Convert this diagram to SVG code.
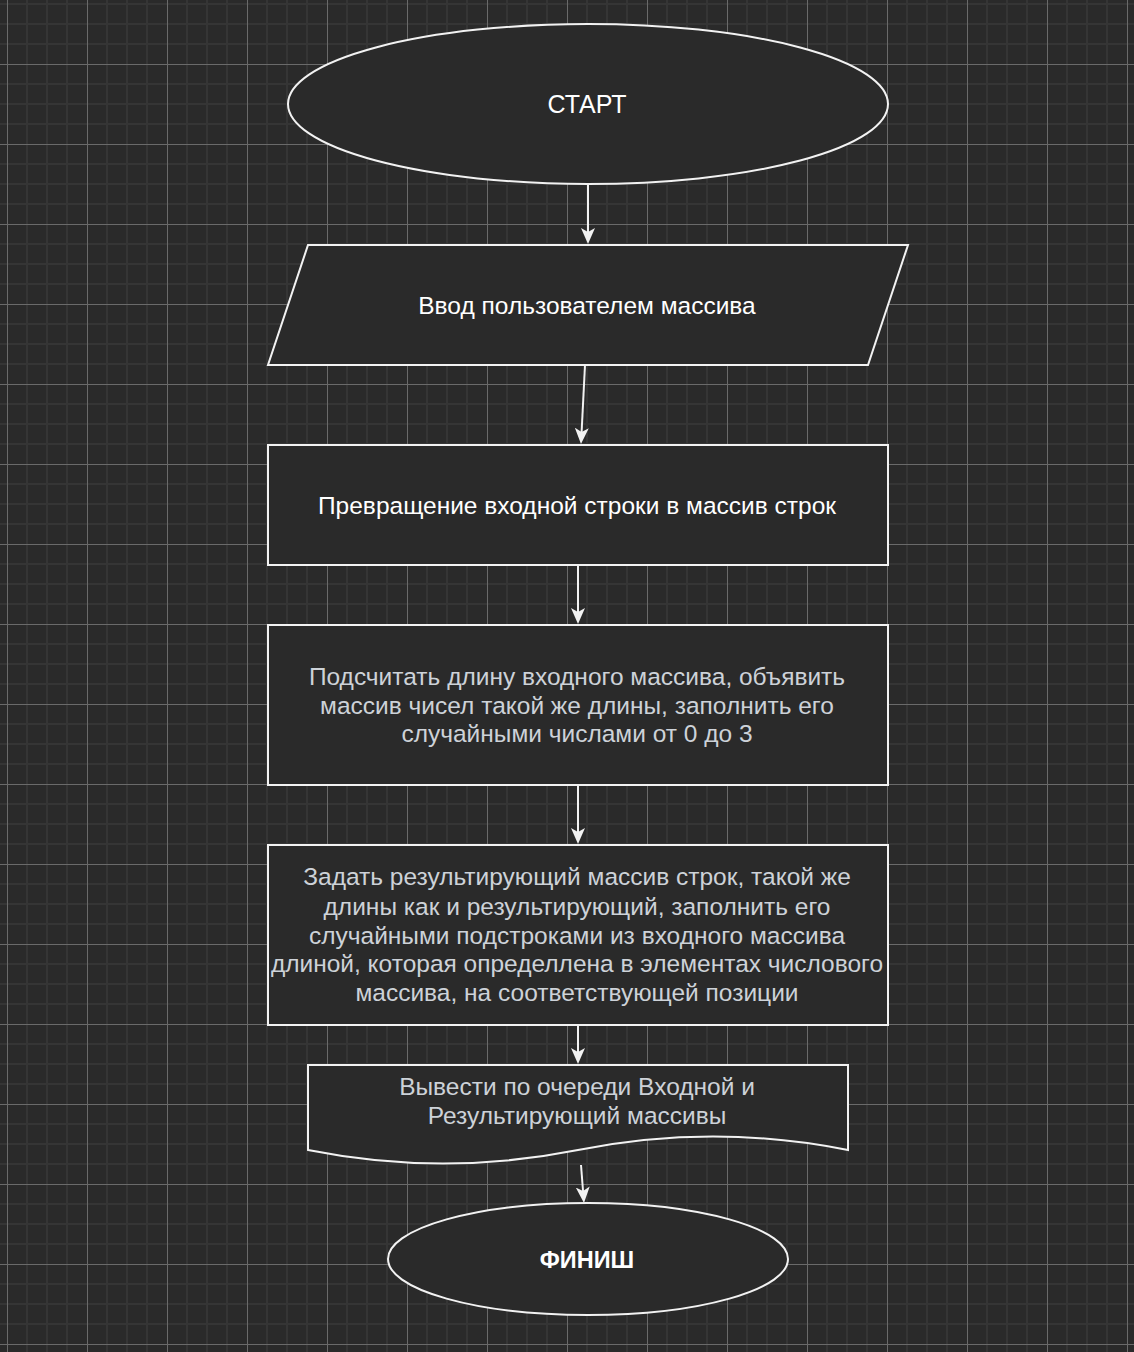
<svg xmlns="http://www.w3.org/2000/svg" width="1134" height="1352" viewBox="0 0 1134 1352">
<style>
.node{fill:#2a2a2a;stroke:#f2f2f2;stroke-width:2}
.t{font-family:"Liberation Sans",Arial,sans-serif;font-size:24.5px;text-anchor:middle;fill:#ffffff}
.t2{font-family:"Liberation Sans",Arial,sans-serif;font-size:24.5px;text-anchor:middle;fill:#cdd2d8}
.edge{fill:none;stroke:#f2f2f2;stroke-width:2}
</style>
<defs>
<pattern id="grid" patternUnits="userSpaceOnUse" x="7" y="-16" width="80" height="80">
<rect width="80" height="80" fill="#2a2a2a"/>
<path d="M20,0V80M40,0V80M60,0V80M0,20H80M0,40H80M0,60H80" stroke="#353535" stroke-width="2" fill="none"/>
<path d="M0.5,0V80M0,0.5H80" stroke="#6a6a6a" stroke-width="1" fill="none"/>
</pattern>
<marker id="arr" viewBox="0 0 16 16" refX="6" refY="8" markerWidth="16" markerHeight="16" markerUnits="userSpaceOnUse" orient="auto">
<path d="M0,1 L16,8 L0,15 L4,8 Z" fill="#f2f2f2"/>
</marker>
</defs>
<rect width="1134" height="1352" fill="url(#grid)"/>
<g id="connectors">
<path class="edge" d="M588,185 L588,234" marker-end="url(#arr)"/>
<path class="edge" d="M585,365 L581.5,434" marker-end="url(#arr)"/>
<path class="edge" d="M578,565 L578,614" marker-end="url(#arr)"/>
<path class="edge" d="M578,785 L578,834" marker-end="url(#arr)"/>
<path class="edge" d="M578,1025 L578,1054" marker-end="url(#arr)"/>
<path class="edge" d="M581,1165 L583.2,1193" marker-end="url(#arr)"/>
</g>
<g id="start">
<ellipse class="node" cx="588" cy="104" rx="300" ry="80"/>
<text class="t" x="587" y="113" style="font-size:25px">СТАРТ</text>
</g>
<g id="input">
<polygon class="node" points="308,245 908,245 868,365 268,365"/>
<text class="t" x="587" y="313.5">Ввод пользователем массива</text>
</g>
<g id="split">
<rect class="node" x="268" y="445" width="620" height="120"/>
<text class="t" x="577" y="513.5">Превращение входной строки в массив строк</text>
</g>
<g id="count">
<rect class="node" x="268" y="625" width="620" height="160"/>
<text class="t2" x="577" y="685">Подсчитать длину входного массива, объявить</text>
<text class="t2" x="577" y="713.5">массив чисел такой же длины, заполнить его</text>
<text class="t2" x="577" y="742">случайными числами от 0 до 3</text>
</g>
<g id="result">
<rect class="node" x="268" y="845" width="620" height="180"/>
<text class="t2" x="577" y="885">Задать результирующий массив строк, такой же</text>
<text class="t2" x="577" y="914.5">длины как и результирующий, заполнить его</text>
<text class="t2" x="577" y="943.5">случайными подстроками из входного массива</text>
<text class="t2" x="577" y="972">длиной, которая определлена в элементах числового</text>
<text class="t2" x="577" y="1001">массива, на соответствующей позиции</text>
</g>
<g id="output">
<path class="node" d="M308,1065 L848,1065 L848,1150 Q713,1123 578,1150 Q443,1177 308,1150 Z"/>
<text class="t2" x="577" y="1095">Вывести по очереди Входной и</text>
<text class="t2" x="577" y="1123.5">Результирующий массивы</text>
</g>
<g id="finish">
<ellipse class="node" cx="588" cy="1259" rx="200" ry="56"/>
<text class="t" x="587" y="1268" style="font-size:23.5px;font-weight:bold">ФИНИШ</text>
</g>
</svg>
